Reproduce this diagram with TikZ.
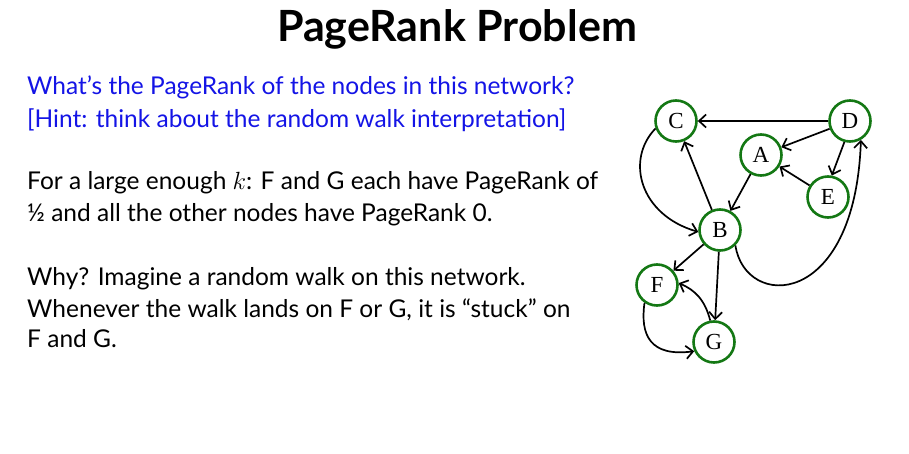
\documentclass[tikz,border=0pt]{standalone}
\usepackage{fontspec}
\setmainfont{Lato}
\newfontfamily\nodefont{Liberation Serif}
\usetikzlibrary{arrows.meta}
\definecolor{ngreen}{RGB}{20,120,20}
\definecolor{qblue}{RGB}{20,20,230}
\begin{document}
\begin{tikzpicture}[x=1pt,y=-1pt,
  vert/.style={circle,draw=ngreen,line width=2.6pt,minimum size=41pt,inner sep=0pt,font=\nodefont\fontsize{23}{23}\selectfont},
  edge/.style={line width=1.7pt,-{Straight Barb[length=7pt,width=13pt,line width=1.7pt]}},
  txt/.style={anchor=base west,inner sep=0pt,font=\fontsize{24.5}{28}\selectfont}]
\useasboundingbox[fill=white] (0,0) rectangle (909,454);
\node[anchor=base,inner sep=0pt,font=\bfseries\fontsize{43}{46}\selectfont] (title) at (457,42) {PageRank Problem};
\node[txt,text=qblue] (q1) at (27,95) {What’s the PageRank of the nodes in this network?};
\node[txt,text=qblue] (q2) at (27,128) {[Hint: think about the random walk interpretation]};
\node[txt] (a1) at (27,190) {For a large enough $k$: F and G each have PageRank of};
\node[txt] (a2) at (27,222) {½ and all the other nodes have PageRank 0.};
\node[txt] (w1) at (27,285) {Why? Imagine a random walk on this network.};
\node[txt] (w2) at (27,317) {Whenever the walk lands on F or G, it is “stuck” on};
\node[txt] (w3) at (27,347) {F and G.};
\node[vert] (C) at (676,121) {C};
\node[vert] (D) at (850,121) {D};
\node[vert] (A) at (761,155) {A};
\node[vert] (E) at (828,197) {E};
\node[vert] (B) at (720,230) {B};
\node[vert] (F) at (657,285) {F};
\node[vert] (G) at (714,342) {G};
\draw[edge] (D) -- (C);
\draw[edge] (D) -- (A);
\draw[edge] (D.-105) -- (E.80);
\draw[edge] (E) -- (A);
\draw[edge] (A) -- (B);
\draw[edge] (B) -- (C);
\draw[edge] (C.200) .. controls (625,160) and (640,215) .. (B.185);
\draw[edge] (B.-45) .. controls (745,310) and (855,310) .. (D.-60);
\draw[edge] (B) -- (F);
\draw[edge] (B) -- (G);
\draw[edge] (G.100) .. controls (705,300) and (695,290) .. (F.5);
\draw[edge] (F.-125) .. controls (640,335) and (650,357) .. (G.205);
\end{tikzpicture}
\end{document}
